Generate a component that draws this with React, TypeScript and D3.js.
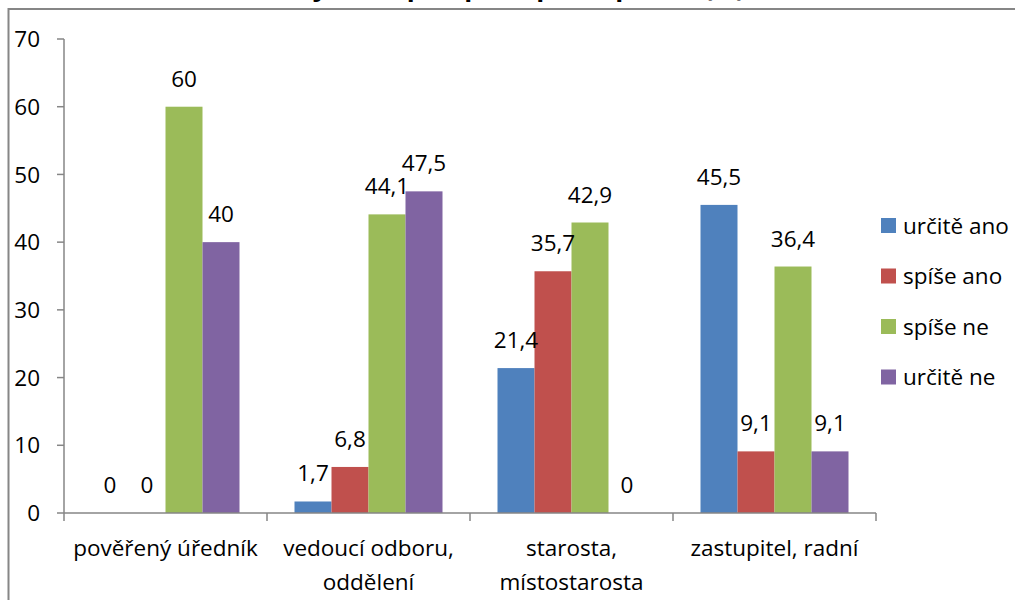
import React from "react";
import * as d3 from "d3";

const categories: string[][] = [
  ["pověřený úředník"],
  ["vedoucí odboru,", "oddělení"],
  ["starosta,", "místostarosta"],
  ["zastupitel, radní"],
];
const seriesNames = ["určitě ano", "spíše ano", "spíše ne", "určitě ne"];
const seriesColors = ["#4F81BD", "#C0504D", "#9BBB59", "#8064A2"];
const urciteAno = [0, 1.7, 21.4, 45.5];
const spiseAno = [0, 6.8, 35.7, 9.1];
const spiseNe = [60, 44.1, 42.9, 36.4];
const urciteNe = [40, 47.5, 0, 9.1];
const yTicks = [0, 10, 20, 30, 40, 50, 60, 70];
const titleText = "Zájem o spolupráci podle pozice (%)";

const series = [urciteAno, spiseAno, spiseNe, urciteNe];

const FONT = "'Open Sans', Carlito, Calibri, Lato, sans-serif";
const FS = 22.5;

export default function App() {
  const W = 1015;
  const H = 600;
  const x0 = 64;
  const x1 = 876;
  const yBase = 513;
  const yTop = 39;

  const y = d3.scaleLinear().domain([0, 70]).range([yBase, yTop]);
  const xc = d3
    .scaleBand<number>()
    .domain(categories.map((_, i) => i))
    .range([x0, x1])
    .paddingInner(0)
    .paddingOuter(0);
  const inner = d3
    .scaleBand<number>()
    .domain(seriesNames.map((_, i) => i))
    .range([27.5, xc.bandwidth() - 27.5])
    .padding(0);

  const fmt = (v: number) => String(v).replace(".", ",");
  const gray = "#868686";

  return (
    <div style={{ position: "fixed", left: 0, top: 0, width: W, height: H, background: "#fff" }}>
      <svg width={W} height={H} style={{ display: "block" }} fontFamily={FONT}>
        <rect x={0} y={0} width={W} height={H} fill="#fff" />
        <text x={745} y={-4} textAnchor="end" fontSize={26} fontWeight="bold" fill="#000">
          {titleText}
        </text>
        <rect x={8.5} y={9} width={1200} height={800} fill="none" stroke={gray} strokeWidth={2} />

        {/* bars */}
        {series.map((vals, s) =>
          vals.map((v, c) => (
            <rect
              key={`b${s}-${c}`}
              x={(xc(c) as number) + (inner(s) as number)}
              y={y(v)}
              width={inner.bandwidth()}
              height={yBase - y(v)}
              fill={seriesColors[s]}
            />
          ))
        )}

        {/* y axis */}
        <line x1={x0} x2={x0} y1={yTop} y2={yBase} stroke={gray} strokeWidth={1.5} />
        {yTicks.map((t) => (
          <g key={`yt${t}`}>
            <line x1={57} x2={x0} y1={y(t)} y2={y(t)} stroke={gray} strokeWidth={1.5} />
            <text x={40} y={y(t)} dy="0.36em" textAnchor="end" fontSize={FS} fill="#000">
              {t}
            </text>
          </g>
        ))}

        {/* x axis */}
        <line x1={x0} x2={x1} y1={yBase} y2={yBase} stroke={gray} strokeWidth={1.5} />
        {[...categories.map((_, i) => xc(i) as number), x1].map((xx, i) => (
          <line key={`xt${i}`} x1={xx} x2={xx} y1={yBase} y2={yBase + 8} stroke={gray} strokeWidth={1.5} />
        ))}
        {categories.map((lines, c) => (
          <text
            key={`cl${c}`}
            x={(xc(c) as number) + xc.bandwidth() / 2}
            y={556}
            textAnchor="middle"
            fontSize={FS}
            fill="#000"
          >
            {lines.map((ln, k) => (
              <tspan key={k} x={(xc(c) as number) + xc.bandwidth() / 2} dy={k === 0 ? 0 : 34}>
                {ln}
              </tspan>
            ))}
          </text>
        ))}

        {/* value labels */}
        {series.map((vals, s) =>
          vals.map((v, c) => (
            <text
              key={`l${s}-${c}`}
              x={(xc(c) as number) + (inner(s) as number) + inner.bandwidth() / 2}
              y={y(v) - 20}
              textAnchor="middle"
              fontSize={FS}
              fill="#000"
            >
              {fmt(v)}
            </text>
          ))
        )}

        {/* legend */}
        {seriesNames.map((n, i) => (
          <g key={`lg${i}`}>
            <rect x={881} y={218 + i * 50.5} width={15} height={15} fill={seriesColors[i]} />
            <text x={903} y={225.5 + i * 50.5} dy="0.36em" fontSize={FS} fill="#000">
              {n}
            </text>
          </g>
        ))}
      </svg>
    </div>
  );
}
